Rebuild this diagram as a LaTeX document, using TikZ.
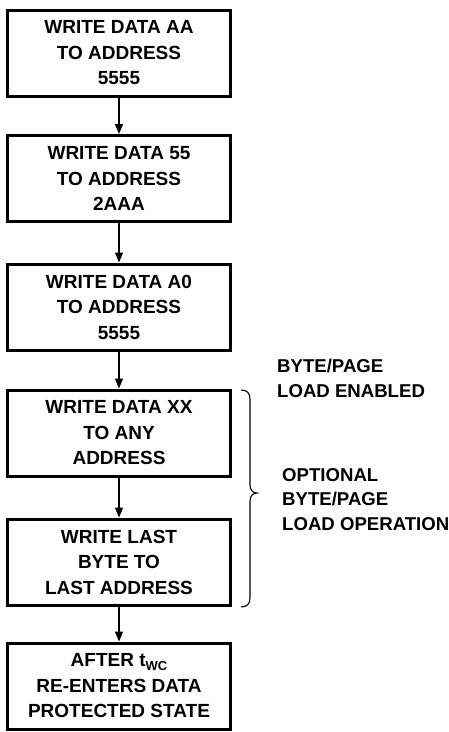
\documentclass[tikz,border=0pt]{standalone}
\usepackage{fontspec}
\setmainfont{Liberation Sans}
\usetikzlibrary{arrows.meta}
\begin{document}
\begin{tikzpicture}[x=1pt,y=1pt,
  stepbox/.style={draw, line width=3pt, minimum width=223pt, minimum height=86pt,
    inner sep=0pt, align=center, font=\fontsize{19}{25.5}\selectfont\bfseries},
  arr/.style={line width=1.3pt, -{Triangle[length=10pt,width=8pt]}},
  sidelabel/.style={anchor=north west, inner sep=0pt, align=left,
    font=\fontsize{18.6}{24.5}\selectfont\bfseries}]
\useasboundingbox (0,0) rectangle (449,-732);
\node[stepbox] (b1) at (119,-53) {WRITE DATA AA\\TO ADDRESS\\5555};
\node[stepbox] (b2) at (119,-178.5) {WRITE DATA 55\\TO ADDRESS\\2AAA};
\node[stepbox] (b3) at (119,-307) {WRITE DATA A0\\TO ADDRESS\\5555};
\node[stepbox] (b4) at (119,-433) {WRITE DATA XX\\TO ANY\\ADDRESS};
\node[stepbox] (b5) at (119,-562) {WRITE LAST\\BYTE TO\\LAST ADDRESS};
\node[stepbox] (b6) at (119,-686) {AFTER t\raisebox{-0.35ex}{\fontsize{13}{13}\selectfont WC}\\RE-ENTERS DATA\\PROTECTED STATE};
\draw[arr] (b1) -- (b2);
\draw[arr] (b2) -- (b3);
\draw[arr] (b3) -- (b4);
\draw[arr] (b4) -- (b5);
\draw[arr] (b5) -- (b6);
\node[sidelabel] (lbl1) at (277,-359) {BYTE/PAGE\\LOAD ENABLED};
\node[sidelabel] (lbl2) at (282,-468) {OPTIONAL\\BYTE/PAGE\\LOAD OPERATION};
\draw[line width=1.1pt] (241,-390) .. controls (247,-390) and (250,-393) .. (250,-399)
  -- (250,-485) .. controls (250,-490) and (253,-493) .. (257,-493)
  .. controls (253,-493) and (250,-496) .. (250,-501)
  -- (250,-598) .. controls (250,-604) and (247,-607) .. (241,-607);
\end{tikzpicture}
\end{document}
